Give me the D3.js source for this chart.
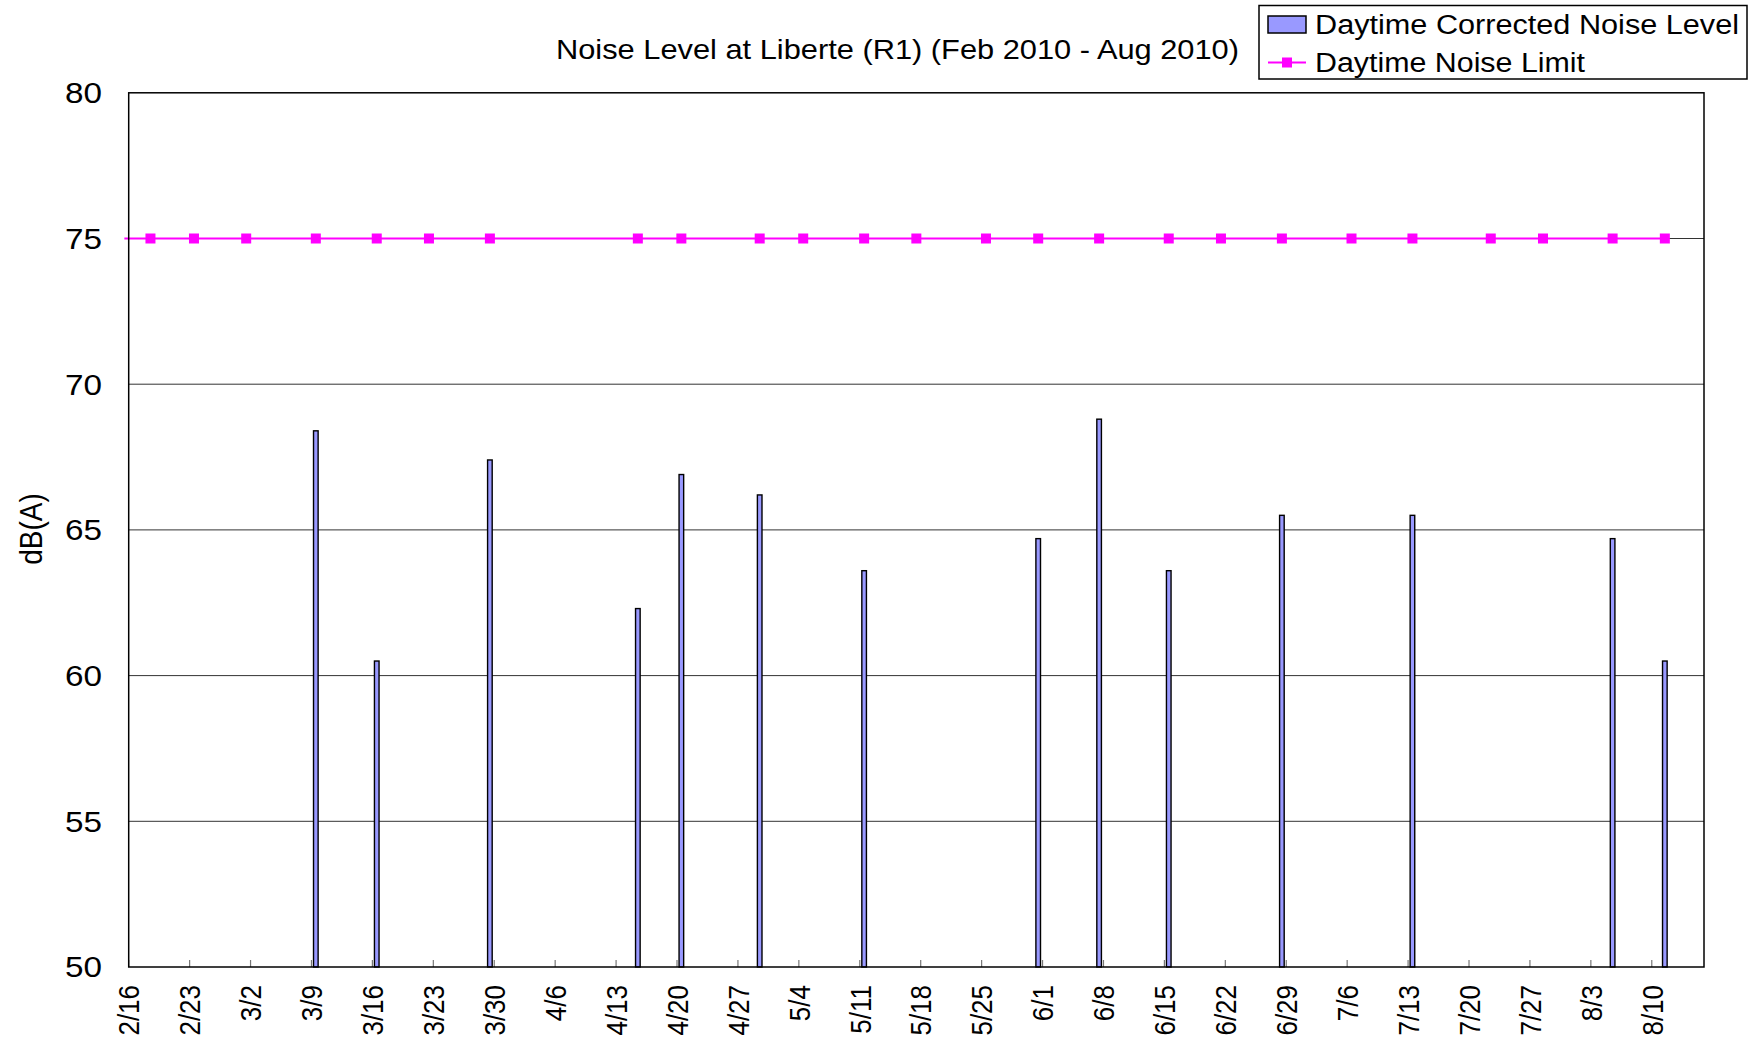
<!DOCTYPE html>
<html>
<head>
<meta charset="utf-8">
<script src="https://cdn.jsdelivr.net/npm/d3@7"></script>
<style>
  body { margin: 0; background: #fff; }
  text { font-family: "Liberation Sans", Arial, sans-serif; fill: #000; }
</style>
</head>
<body>
<svg id="chart" width="1753" height="1042"></svg>
<script>
// measured noise, one bar per survey day
var barDates  = ["2010-03-09", "2010-03-16", "2010-03-29", "2010-04-15", "2010-04-20", "2010-04-29",
                 "2010-05-11", "2010-05-31", "2010-06-07", "2010-06-15", "2010-06-28", "2010-07-13",
                 "2010-08-05", "2010-08-11"];
var barValues = [68.4, 60.5, 67.4, 62.3, 66.9, 66.2, 63.6, 64.7, 68.8, 63.6, 65.5, 65.5, 64.7, 60.5];

// daytime limit series (first point falls just before the axis start)
var limitDates  = ["2010-02-15", "2010-02-18", "2010-02-23", "2010-03-01", "2010-03-09", "2010-03-16",
                   "2010-03-22", "2010-03-29", "2010-04-15", "2010-04-20", "2010-04-29", "2010-05-04",
                   "2010-05-11", "2010-05-17", "2010-05-25", "2010-05-31", "2010-06-07", "2010-06-15",
                   "2010-06-21", "2010-06-28", "2010-07-06", "2010-07-13", "2010-07-22", "2010-07-28",
                   "2010-08-05", "2010-08-11"];
var limitValues = [75, 75, 75, 75, 75, 75, 75, 75, 75, 75, 75, 75, 75,
                   75, 75, 75, 75, 75, 75, 75, 75, 75, 75, 75, 75, 75];

var yTicks = [50, 55, 60, 65, 70, 75, 80];
var xStart = "2010-02-16", xEnd = "2010-08-16";

var parse = d3.utcParse("%Y-%m-%d");
var fmt = d3.utcFormat("%-m/%-d");

var svg = d3.select("#chart");
var pLeft = 128.7, pRight = 1704, pTop = 92.8, pBottom = 967;

var x = d3.scaleUtc()
    .domain([parse(xStart), parse(xEnd)])
    .range([pLeft, pRight]);
var y = d3.scaleLinear()
    .domain([50, 80])
    .range([pBottom, pTop]);

var dayW = x(d3.utcDay.offset(parse(xStart), 1)) - x(parse(xStart));
function xc(s) { return x(parse(s)) + dayW / 2; }

// gridlines
svg.append("g").selectAll("line")
    .data(yTicks.slice(1, -1))
    .enter().append("line")
    .attr("x1", pLeft).attr("x2", pRight)
    .attr("y1", function(d) { return y(d); })
    .attr("y2", function(d) { return y(d); })
    .attr("stroke", "#333").attr("stroke-width", 1);

// y tick labels (the original text is a bit stretched sideways)
svg.append("g").selectAll("text")
    .data(yTicks)
    .enter().append("text")
    .attr("x", 102)
    .attr("y", function(d) { return y(d); })
    .attr("dy", "0.36em")
    .attr("text-anchor", "end")
    .attr("textLength", 37)
    .attr("lengthAdjust", "spacingAndGlyphs")
    .style("font-size", "29px")
    .text(function(d) { return d; });

// x ticks every 7 days
var tickDates = d3.utcDay.range(parse(xStart), parse("2010-08-11"), 7);
svg.append("g").selectAll("line")
    .data(tickDates)
    .enter().append("line")
    .attr("x1", function(d) { return x(d); })
    .attr("x2", function(d) { return x(d); })
    .attr("y1", pBottom).attr("y2", pBottom - 7)
    .attr("stroke", "#777").attr("stroke-width", 1.2);

svg.append("g").selectAll("text")
    .data(tickDates)
    .enter().append("text")
    .attr("transform", function(d) { return "translate(" + x(d) + ",985) rotate(-90) scale(1,1.15)"; })
    .attr("dy", "0.36em")
    .attr("text-anchor", "end")
    .style("font-size", "26px")
    .text(function(d) { return fmt(d); });

// bars
svg.append("g").selectAll("rect")
    .data(barDates)
    .enter().append("rect")
    .attr("x", function(d) { return xc(d) - 2.3; })
    .attr("width", 4.6)
    .attr("y", function(d, i) { return y(barValues[i]); })
    .attr("height", function(d, i) { return pBottom - y(barValues[i]); })
    .attr("fill", "#9999ff")
    .attr("stroke", "#000")
    .attr("stroke-width", 1.4);

// limit line
var line = d3.line()
    .x(function(d) { return xc(d); })
    .y(function(d, i) { return y(limitValues[i]); });
svg.append("path")
    .attr("d", line(limitDates))
    .attr("fill", "none")
    .attr("stroke", "#ff00ff")
    .attr("stroke-width", 2);

svg.append("g").selectAll("rect")
    .data(limitDates.filter(function(d) { return parse(d) >= parse(xStart); }))
    .enter().append("rect")
    .attr("x", function(d) { return xc(d) - 5; })
    .attr("y", function(d) { return y(75) - 5; })
    .attr("width", 10).attr("height", 10)
    .attr("fill", "#ff00ff");

// plot frame
svg.append("rect")
    .attr("x", pLeft).attr("y", pTop)
    .attr("width", pRight - pLeft).attr("height", pBottom - pTop)
    .attr("fill", "none").attr("stroke", "#000").attr("stroke-width", 1.5);

// y axis label
svg.append("text")
    .attr("transform", "translate(31,529) rotate(-90) scale(1,1.1)")
    .attr("dy", "0.36em")
    .attr("text-anchor", "middle")
    .style("font-size", "28px")
    .text("dB(A)");

// title
svg.append("text")
    .attr("x", 556).attr("y", 59)
    .attr("textLength", 683)
    .attr("lengthAdjust", "spacingAndGlyphs")
    .style("font-size", "28px")
    .text("Noise Level at Liberte (R1) (Feb 2010 - Aug 2010)");

// legend
var lg = svg.append("g");
lg.append("rect")
    .attr("x", 1259).attr("y", 5.5)
    .attr("width", 488).attr("height", 73.5)
    .attr("fill", "#fff").attr("stroke", "#000").attr("stroke-width", 1.5);
lg.append("rect")
    .attr("x", 1268).attr("y", 16)
    .attr("width", 38).attr("height", 17)
    .attr("fill", "#9999ff").attr("stroke", "#000").attr("stroke-width", 1.5);
lg.append("line")
    .attr("x1", 1268).attr("x2", 1306)
    .attr("y1", 62.5).attr("y2", 62.5)
    .attr("stroke", "#ff00ff").attr("stroke-width", 2);
lg.append("rect")
    .attr("x", 1282).attr("y", 57.5)
    .attr("width", 10).attr("height", 10)
    .attr("fill", "#ff00ff");
lg.append("text")
    .attr("x", 1315).attr("y", 34)
    .attr("textLength", 424)
    .attr("lengthAdjust", "spacingAndGlyphs")
    .style("font-size", "27px")
    .text("Daytime Corrected Noise Level");
lg.append("text")
    .attr("x", 1315).attr("y", 72)
    .attr("textLength", 270)
    .attr("lengthAdjust", "spacingAndGlyphs")
    .style("font-size", "27px")
    .text("Daytime Noise Limit");
</script>
</body>
</html>
